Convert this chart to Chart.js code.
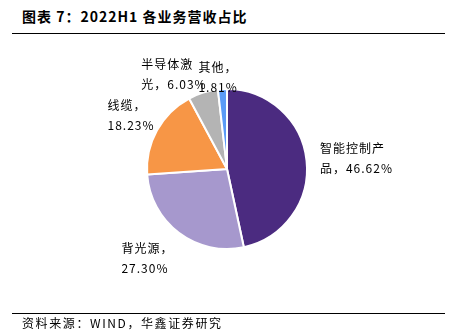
<!DOCTYPE html>
<html>
<head>
<meta charset="utf-8">
<script src="https://cdn.jsdelivr.net/npm/chart.js@4"></script>
<style>
  body { margin: 0; background: #fff; font-family: "Noto Sans CJK SC", sans-serif; }
  #wrap { position: relative; width: 462px; height: 330px; }
  #title { position: absolute; left: 22px; top: 6px; font-size: 14px; font-weight: bold; color: #000; letter-spacing: 1px; }
  #line1 { position: absolute; left: 12px; top: 33px; width: 433px; height: 1px; background: #000; }
  #line2 { position: absolute; left: 12px; top: 313px; width: 433px; height: 1px; background: #000; }
  #source { position: absolute; left: 22px; top: 314px; font-size: 12px; color: #000; letter-spacing: 1.6px; }
  canvas { position: absolute; left: 0; top: 0; }
</style>
</head>
<body>
<div id="wrap">
  <div id="title">图表 7：2022H1 各业务营收占比</div>
  <div id="line1"></div>
  <canvas id="pieChart" width="462" height="330"></canvas>
  <div id="line2"></div>
  <div id="source">资料来源：WIND，华鑫证券研究</div>
</div>
<script>
  var categories = ['智能控制产品', '背光源', '线缆', '半导体激光', '其他'];
  var shares = [46.62, 27.30, 18.23, 6.03, 1.81];
  var colors = ['#4B2B80', '#A698CD', '#F79646', '#B4B4B4', '#5B9BF7'];

  // 标签: 每个标签在第几个字换行, 以及相对扇区中点的微调
  var wrapAt = [5, 4, 3, 4, 3];
  var nudge = [[26, 0], [-17, 6], [-5, -3], [-22, 5], [-3, 12]];

  var labelPlugin = {
    id: 'sliceLabels',
    afterDatasetsDraw: function (chart) {
      var ctx = chart.ctx;
      var meta = chart.getDatasetMeta(0);
      ctx.save();
      ctx.font = '12px "Noto Sans CJK SC", sans-serif';
      ctx.letterSpacing = '1px';
      ctx.fillStyle = '#000';
      ctx.textBaseline = 'middle';
      ctx.textAlign = 'left';
      meta.data.forEach(function (arc, i) {
        var mid = (arc.startAngle + arc.endAngle) / 2;
        var r = arc.outerRadius + 24;
        var x = arc.x + Math.cos(mid) * r + nudge[i][0];
        var y = arc.y + Math.sin(mid) * r + nudge[i][1];
        var text = categories[i] + '，' + shares[i].toFixed(2) + '%';
        var lines = [text.slice(0, wrapAt[i]), text.slice(wrapAt[i])];
        var w = Math.max(ctx.measureText(lines[0]).width, ctx.measureText(lines[1]).width);
        ctx.fillText(lines[0], x - w / 2, y - 10);
        ctx.fillText(lines[1], x - w / 2, y + 10);
      });
      ctx.restore();
    }
  };

  var ctx = document.getElementById('pieChart').getContext('2d');
  var pieChart = new Chart(ctx, {
    type: 'pie',
    data: {
      labels: categories,
      datasets: [{
        data: shares,
        backgroundColor: colors,
        borderColor: '#fff',
        borderWidth: 2
      }]
    },
    options: {
      responsive: false,
      animation: false,
      layout: {
        padding: { left: 146, right: 154, top: 86, bottom: 78 }
      },
      plugins: {
        legend: { display: false },
        tooltip: { enabled: false }
      }
    },
    plugins: [labelPlugin]
  });
</script>
</body>
</html>
